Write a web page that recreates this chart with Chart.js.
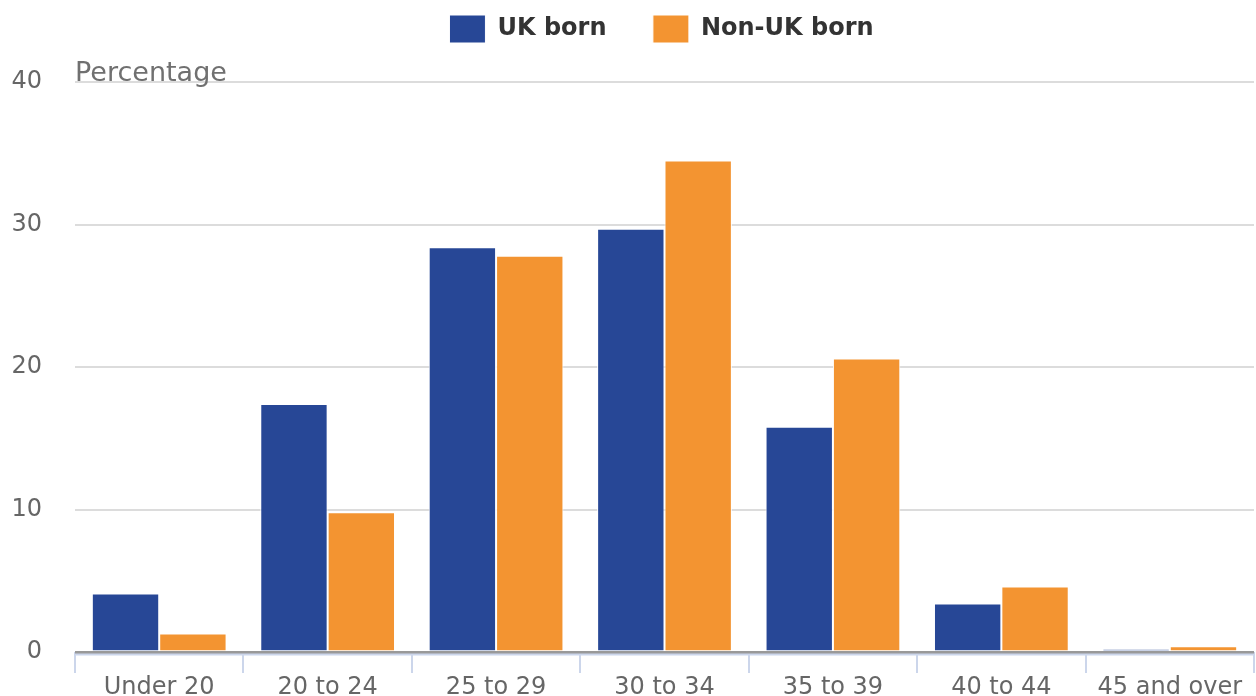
<!DOCTYPE html>
<html>
<head>
<meta charset="utf-8">
<script src="https://cdn.jsdelivr.net/npm/chart.js@4/dist/chart.umd.min.js"></script>
<style>
  html, body { margin: 0; padding: 0; background: #fff; overflow: hidden; }
  canvas { display: block; }
</style>
</head>
<body>
<canvas id="ageChart" width="1256" height="696"></canvas>
<script>
// age groups of mother
const categories = ["Under 20", "20 to 24", "25 to 29", "30 to 34", "35 to 39", "40 to 44", "45 and over"];
const ukBorn = [4.1, 17.4, 28.4, 29.7, 15.8, 3.4, 0.2];
const nonUkBorn = [1.3, 9.8, 27.8, 34.5, 20.6, 4.6, 0.4];
const yTicks = [0, 10, 20, 30, 40];

Chart.defaults.font.family = "'DejaVu Sans', sans-serif";

// "Percentage" label on top of the plot + the light axis line under the zero line
const extras = {
    id: "extras",
    beforeLayout(chart) {
        const lg = chart.legend;
        if (lg && !lg._fixed) {
            const fit = lg.fit;
            lg.fit = function () { fit.call(this); this.height = 80; };
            lg._fixed = true;
        }
    },
    afterLayout(chart) {
        // nudge legend a little left
        chart.legend.left -= 6;
    },
    beforeDatasetsDraw(chart) {
        const ctx = chart.ctx;
        const a = chart.chartArea;
        ctx.save();
        ctx.strokeStyle = "#ccd6eb";
        ctx.lineWidth = 2;
        ctx.beginPath();
        ctx.moveTo(a.left, a.bottom + 2.5);
        ctx.lineTo(a.right, a.bottom + 2.5);
        ctx.stroke();
        ctx.restore();
    },
    afterDraw(chart) {
        const ctx = chart.ctx;
        ctx.save();
        ctx.font = "27px 'DejaVu Sans'";
        ctx.fillStyle = "#707070";
        ctx.textBaseline = "alphabetic";
        ctx.fillText("Percentage", chart.chartArea.left, chart.chartArea.top - 1);
        ctx.restore();
    }
};

new Chart(document.getElementById("ageChart"), {
    type: "bar",
    data: {
        labels: categories,
        datasets: [{
            label: "UK born",
            data: ukBorn,
            backgroundColor: "#274796",
            borderColor: "#ffffff",
            borderWidth: 1
        }, {
            label: "Non-UK born",
            data: nonUkBorn,
            backgroundColor: "#f39431",
            borderColor: "#ffffff",
            borderWidth: 1
        }]
    },
    options: {
        responsive: false,
        animation: false,
        categoryPercentage: 0.8,
        barPercentage: 1,
        layout: { padding: { left: 0, right: 2, top: 2, bottom: 0 } },
        plugins: {
            tooltip: { enabled: false },
            legend: {
                position: "top",
                fullSize: false,
                labels: {
                    boxWidth: 36,
                    boxHeight: 28,
                    padding: 13,
                    color: "#333333",
                    font: { size: 24, weight: "bold" },
                    // widen the gap after the first item
                    generateLabels: chart => Chart.defaults.plugins.legend.labels.generateLabels(chart)
                        .map((it, i) => i === 0 ? Object.assign(it, { text: it.text + "\u00a0\u00a0\u00a0\u00a0" }) : it)
                }
            }
        },
        scales: {
            x: {
                grid: {
                    offset: true,
                    drawOnChartArea: false,
                    color: "#ccd6eb",
                    lineWidth: 2,
                    tickLength: 21
                },
                border: { display: false },
                ticks: { color: "#666666", font: { size: 24 }, padding: 0, maxRotation: 0 },
                afterFit: s => { s.height = 44; }
            },
            y: {
                min: 0,
                max: 40,
                afterBuildTicks: s => { s.ticks = yTicks.map(v => ({ value: v })); },
                grid: {
                    tickLength: 29,
                    tickColor: "rgba(0,0,0,0)",
                    color: c => c.tick && c.tick.value === 0 ? "#999999" : "#dcdcdc",
                    lineWidth: c => c.tick && c.tick.value === 0 ? 3 : 2
                },
                border: { display: false },
                ticks: { color: "#666666", font: { size: 24 }, padding: 4 },
                afterFit: s => { s.width = 75; }
            }
        }
    },
    plugins: [extras]
});
</script>
</body>
</html>
